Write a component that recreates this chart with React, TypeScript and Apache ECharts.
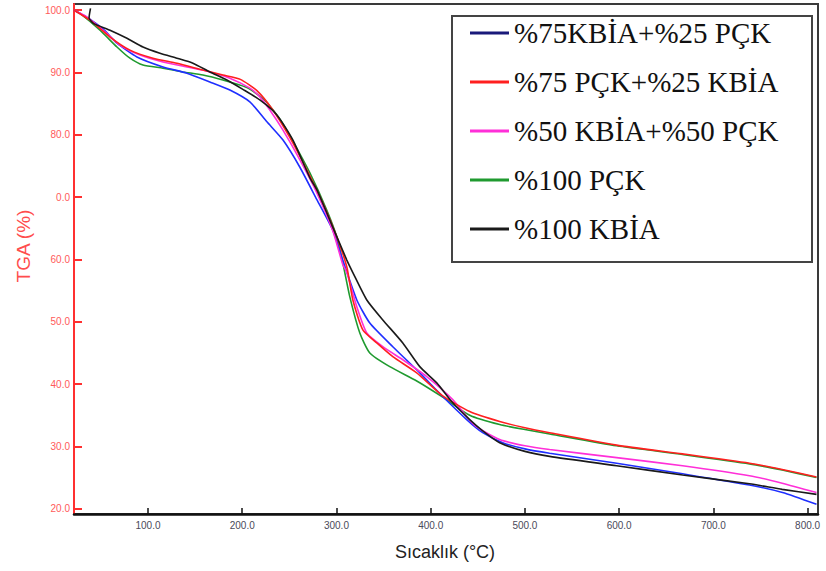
import React, { useEffect, useRef } from "react";
import * as echarts from "echarts";

const seriesNames = [
  "%75KBİA+%25 PÇK",
  "%75 PÇK+%25 KBİA",
  "%50 KBİA+%50 PÇK",
  "%100 PÇK",
  "%100 KBİA",
];
const seriesColors = ["#1f2fff", "#ff1f1f", "#ff2fd8", "#1f9a2f", "#1a1a1a"];
const legendColors = ["#1a1a7a", "#ff1f1f", "#ff2fd8", "#1f9a2f", "#1a1a1a"];

const kbia75: number[][] = [
  [21.5, 100], [35, 98.9], [52.3, 97.0], [67.1, 94.7], [88.3, 92.5], [115.9, 90.9],
  [141.3, 89.9], [165.7, 88.5], [186.9, 87.2], [208.1, 85.3], [226.2, 82.1], [243.1, 79.2],
  [261.2, 74.8], [279.2, 69.6], [296.1, 64.7], [306.7, 59.9], [321.6, 53.5], [335.4, 49.8],
  [359.8, 46.0], [388.4, 41.8], [412.8, 38.0], [438.2, 34.3], [455.2, 32.2], [476.4, 30.6],
  [500, 29.6], [526.2, 28.9], [597.3, 27.3], [667.3, 25.6], [738.3, 23.8], [773.3, 22.6],
  [809.4, 20.7],
];
const pck75: number[][] = [
  [21.5, 100], [38.5, 98.4], [59.7, 95.7], [80.9, 93.6], [105.3, 92.3], [130.7, 91.5],
  [158.3, 90.4], [179.5, 89.6], [198, 88.9], [215.6, 87.1], [232.5, 84.0], [250.5, 79.6],
  [268.6, 74.4], [285.5, 69.1], [300.4, 63.6], [311.0, 58.8], [317.4, 53.5], [328.0, 48.7],
  [342.8, 46.6], [359.8, 44.4], [385.2, 41.8], [412.8, 38.1], [441.4, 35.6], [473.2, 34.0],
  [500, 33.0], [526.2, 32.2], [597.3, 30.2], [667.3, 28.8], [738.3, 27.3], [773, 26.3],
  [809.4, 25.1],
];
const kbia50: number[][] = [
  [21.5, 100], [35.3, 98.9], [52.3, 96.8], [70.3, 94.4], [91.5, 92.8], [115.9, 91.7],
  [141.3, 90.9], [165.7, 90.1], [186.9, 89.1], [208.1, 87.5], [218.7, 86.1], [229.3, 84.0],
  [243.1, 80.8], [261.2, 76.0], [279.2, 70.7], [296.1, 64.6], [306.7, 59.2], [311, 57.9],
  [321.6, 52.4], [332.2, 48.2], [349.2, 46.0], [370.4, 43.9], [395.8, 41.2], [423.4, 37.5],
  [446.5, 33.4], [473.2, 31.1], [500, 30.1], [526.2, 29.5], [597.3, 28.2], [667.3, 26.9],
  [738.3, 25.3], [773, 24.1], [809.4, 22.6],
];
const pck100: number[][] = [
  [21.5, 100], [27.9, 99.5], [49.1, 96.8], [67.1, 94.1], [80.9, 92.3], [94.7, 91.2],
  [115.9, 90.7], [137.1, 90.1], [158.3, 89.6], [179.5, 88.8], [205.0, 87.6], [218.7, 86.2],
  [226.2, 85.2], [240.0, 82.5], [253.7, 79.0], [271.8, 73.9], [289.8, 67.9], [300.4, 63.6],
  [306.7, 59.5], [314.2, 54.0], [324.8, 48.2], [335.4, 45.0], [356.6, 42.8], [385.2, 40.5],
  [412.8, 37.9], [441.4, 35.0], [473.2, 33.5], [500, 32.7], [526.2, 32.0], [597.3, 30.1],
  [667.3, 28.7], [738.3, 27.2], [773, 26.2], [809.4, 25.0],
];
const kbia100: number[][] = [
  [39, 100.3], [37.5, 98.8], [42, 97.9], [59.7, 96.8], [77.7, 95.5], [94.7, 94.1],
  [112.7, 93.1], [130.7, 92.3], [147.7, 91.5], [165.7, 90.1], [183.7, 88.8], [200.7, 87.3],
  [218.7, 85.6], [236.8, 83.2], [253.7, 79.2], [271.8, 73.1], [279.2, 71.2], [296.1, 65.2],
  [311.0, 59.9], [317.4, 57.9], [332.2, 53.5], [349.2, 50.3], [370.4, 46.6], [388.4, 42.8],
  [406.4, 40.2], [423.4, 37.0], [441.4, 34.3], [455.2, 32.5], [473.2, 30.6], [500, 29.2],
  [526.2, 28.4], [597.3, 26.9], [667.3, 25.4], [738.3, 24.0], [773, 23.1], [809.4, 22.3],
];
const seriesData = [kbia75, pck75, kbia50, pck100, kbia100];
const drawOrder = [3, 0, 2, 1, 4];

const xMin = 21.5;
const xMax = 811;
const yMin = 19.15;
const yMax = 101;

export default function App() {
  const ref = useRef<HTMLDivElement>(null);
  useEffect(() => {
    if (!ref.current) return;
    const chart = echarts.init(ref.current, undefined, { renderer: "svg" });
    chart.setOption({
      animation: false,
      backgroundColor: "#ffffff",
      grid: {
        left: 74,
        right: 8,
        top: 4,
        bottom: 57,
        show: true,
        borderColor: "#3a3a3a",
        borderWidth: 2,
        backgroundColor: "transparent",
      },
      xAxis: {
        type: "value",
        min: xMin,
        max: xMax,
        splitNumber: 8,
        axisLine: { show: true, lineStyle: { color: "#111", width: 2.5 } },
        axisTick: { show: true, inside: true, length: 6, lineStyle: { color: "#111", width: 1.5 } },
        splitLine: { show: false },
        axisLabel: {
          showMinLabel: false,
          showMaxLabel: false,
          margin: 6,
          color: "#4a4a5a",
          fontSize: 10,
          fontFamily: "Liberation Sans",
          formatter: (v: number) => v.toFixed(1),
        },
      },
      yAxis: {
        type: "value",
        min: yMin,
        max: yMax,
        splitNumber: 8,
        axisLine: { show: true, lineStyle: { color: "#ff3030", width: 2 } },
        axisTick: { show: true, inside: true, length: 8, lineStyle: { color: "#ff3030", width: 2 } },
        splitLine: { show: false },
        axisLabel: {
          showMinLabel: false,
          showMaxLabel: false,
          margin: 4,
          color: "#ff5a5a",
          fontSize: 10,
          fontFamily: "Liberation Sans",
          formatter: (v: number) => (Math.round(v) === 70 ? "0.0" : v.toFixed(1)),
        },
      },
      legend: {
        orient: "vertical",
        left: 470,
        top: 18,
        padding: 0,
        itemGap: 19,
        itemWidth: 39,
        itemHeight: 3,
        icon: "rect",
        textStyle: {
          fontFamily: "Liberation Serif",
          fontSize: 29,
          lineHeight: 30,
          color: "#111",
        },
        data: seriesNames.map((n, i) => ({ name: n, itemStyle: { color: legendColors[i] } })),
      },
      graphic: [
        {
          type: "rect",
          shape: { x: 452, y: 16, width: 360, height: 246 },
          style: { fill: "transparent", stroke: "#444", lineWidth: 2 },
        },
        {
          type: "text",
          x: 23,
          y: 246,
          rotation: Math.PI / 2,
          style: {
            text: "TGA (%)",
            fill: "#ff4d4d",
            fontSize: 19,
            fontFamily: "Liberation Sans",
            align: "center",
            verticalAlign: "middle",
          },
        },
        {
          type: "text",
          x: 445,
          y: 552,
          style: {
            text: "Sıcaklık (°C)",
            fill: "#222",
            fontSize: 18,
            fontFamily: "Liberation Sans",
            align: "center",
            verticalAlign: "middle",
          },
        },
      ],
      series: drawOrder.map((i) => ({
        name: seriesNames[i],
        type: "line",
        data: seriesData[i],
        showSymbol: false,
        symbol: "none",
        smooth: 0.2,
        color: seriesColors[i],
        lineStyle: { color: seriesColors[i], width: 1.6 },
      })),
    });
    return () => chart.dispose();
  }, []);
  return (
    <div
      ref={ref}
      style={{ position: "fixed", left: 0, top: 0, width: 826, height: 571 }}
    />
  );
}
